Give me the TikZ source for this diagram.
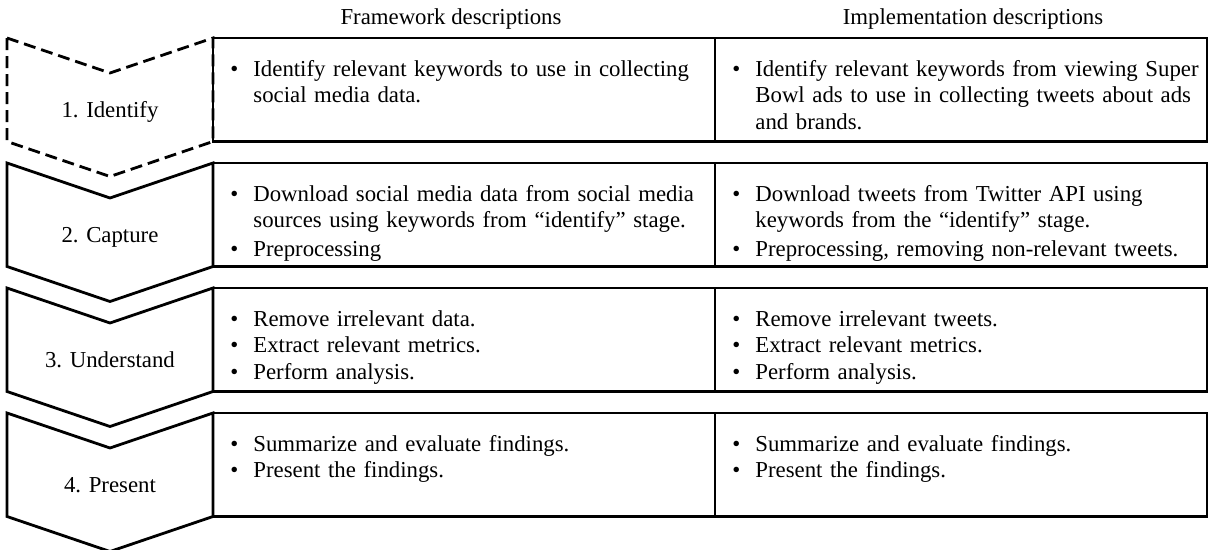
\documentclass[tikz,border=0pt]{standalone}
\usepackage{fontspec}
\setmainfont{Liberation Serif}
\usepackage{tikz}
\usetikzlibrary{positioning}
\tikzset{
  stagebox/.style={draw=black, line width=1.4pt, line join=miter},
  firststage/.style={stagebox, dash pattern=on 6pt off 3pt},
  stagelabel/.style={anchor=base, inner sep=0pt},
  cellbox/.style={draw=black, line width=1.4pt, anchor=north west, outer sep=0pt,
                  inner sep=0pt, minimum height=51.75pt},
  celltext/.style={inner sep=0pt, text width=236pt, align=left},
  colhead/.style={anchor=base, inner sep=0pt},
}
% one bulleted entry, later lines hang under the text
\newcommand{\descitem}[1]{\par\noindent\makebox[11.5pt][l]{\textbullet}%
  \parbox[t]{224pt}{\raggedright\strut#1\strut}}

\begin{document}
\begin{tikzpicture}[x=1pt, y=-1pt, every node/.style={font=\fontsize{11.4}{13.2}\selectfont}]
\useasboundingbox (0,0) rectangle (604.5,275);

% column heads
\node[colhead] (fwhead) at (225.5,12.5) {Framework descriptions};
\node[colhead] (imhead) at (486.5,12.5) {Implementation descriptions};

% stage chevrons
\draw[firststage] (3.5,19) -- (55,36.5) -- (106.5,19) -- (106.5,70.75) -- (55,88.25) -- (3.5,70.75) -- cycle;
\draw[stagebox] (3.5,81.5) -- (55,99) -- (106.5,81.5) -- (106.5,133.25) -- (55,150.75) -- (3.5,133.25) -- cycle;
\draw[stagebox] (3.5,144) -- (55,161.5) -- (106.5,144) -- (106.5,195.75) -- (55,213.25) -- (3.5,195.75) -- cycle;
\draw[stagebox] (3.5,206.5) -- (55,224) -- (106.5,206.5) -- (106.5,258.25) -- (55,275.75) -- (3.5,258.25) -- cycle;

\node[stagelabel] (stage1) at (55,58.6) {1. Identify};
\node[stagelabel] (stage2) at (55,121.1) {2. Capture};
\node[stagelabel] (stage3) at (55,183.6) {3. Understand};
\node[stagelabel] (stage4) at (55,246.1) {4. Present};

% description cells
\node[cellbox, minimum width=251pt] (fw1) at (106.5,19) {};
\node[cellbox, minimum width=246pt] (im1) at (357.5,19) {};
\node[cellbox, minimum width=251pt] (fw2) at (106.5,81.5) {};
\node[cellbox, minimum width=246pt] (im2) at (357.5,81.5) {};
\node[cellbox, minimum width=251pt] (fw3) at (106.5,144) {};
\node[cellbox, minimum width=246pt] (im3) at (357.5,144) {};
\node[cellbox, minimum width=251pt] (fw4) at (106.5,206.5) {};
\node[cellbox, minimum width=246pt] (im4) at (357.5,206.5) {};

\node[celltext, below right=5.8pt and 8.5pt of fw1.north west] (fw1txt)
  {\descitem{Identify relevant keywords to use in collecting\\ social media data.}};
\node[celltext, below right=5.8pt and 8.5pt of im1.north west] (im1txt)
  {\descitem{Identify relevant keywords from viewing Super\\ Bowl ads to use in collecting tweets about ads\\ and brands.}};
\node[celltext, below right=5.8pt and 8.5pt of fw2.north west] (fw2txt)
  {\descitem{Download social media data from social media\\ sources using keywords from ``identify'' stage.}
   \descitem{Preprocessing}};
\node[celltext, below right=5.8pt and 8.5pt of im2.north west] (im2txt)
  {\descitem{Download tweets from Twitter API using\\ keywords from the ``identify'' stage.}
   \descitem{Preprocessing, removing non-relevant tweets.}};
\node[celltext, below right=5.8pt and 8.5pt of fw3.north west] (fw3txt)
  {\descitem{Remove irrelevant data.}
   \descitem{Extract relevant metrics.}
   \descitem{Perform analysis.}};
\node[celltext, below right=5.8pt and 8.5pt of im3.north west] (im3txt)
  {\descitem{Remove irrelevant tweets.}
   \descitem{Extract relevant metrics.}
   \descitem{Perform analysis.}};
\node[celltext, below right=5.8pt and 8.5pt of fw4.north west] (fw4txt)
  {\descitem{Summarize and evaluate findings.}
   \descitem{Present the findings.}};
\node[celltext, below right=5.8pt and 8.5pt of im4.north west] (im4txt)
  {\descitem{Summarize and evaluate findings.}
   \descitem{Present the findings.}};
\end{tikzpicture}
\end{document}
